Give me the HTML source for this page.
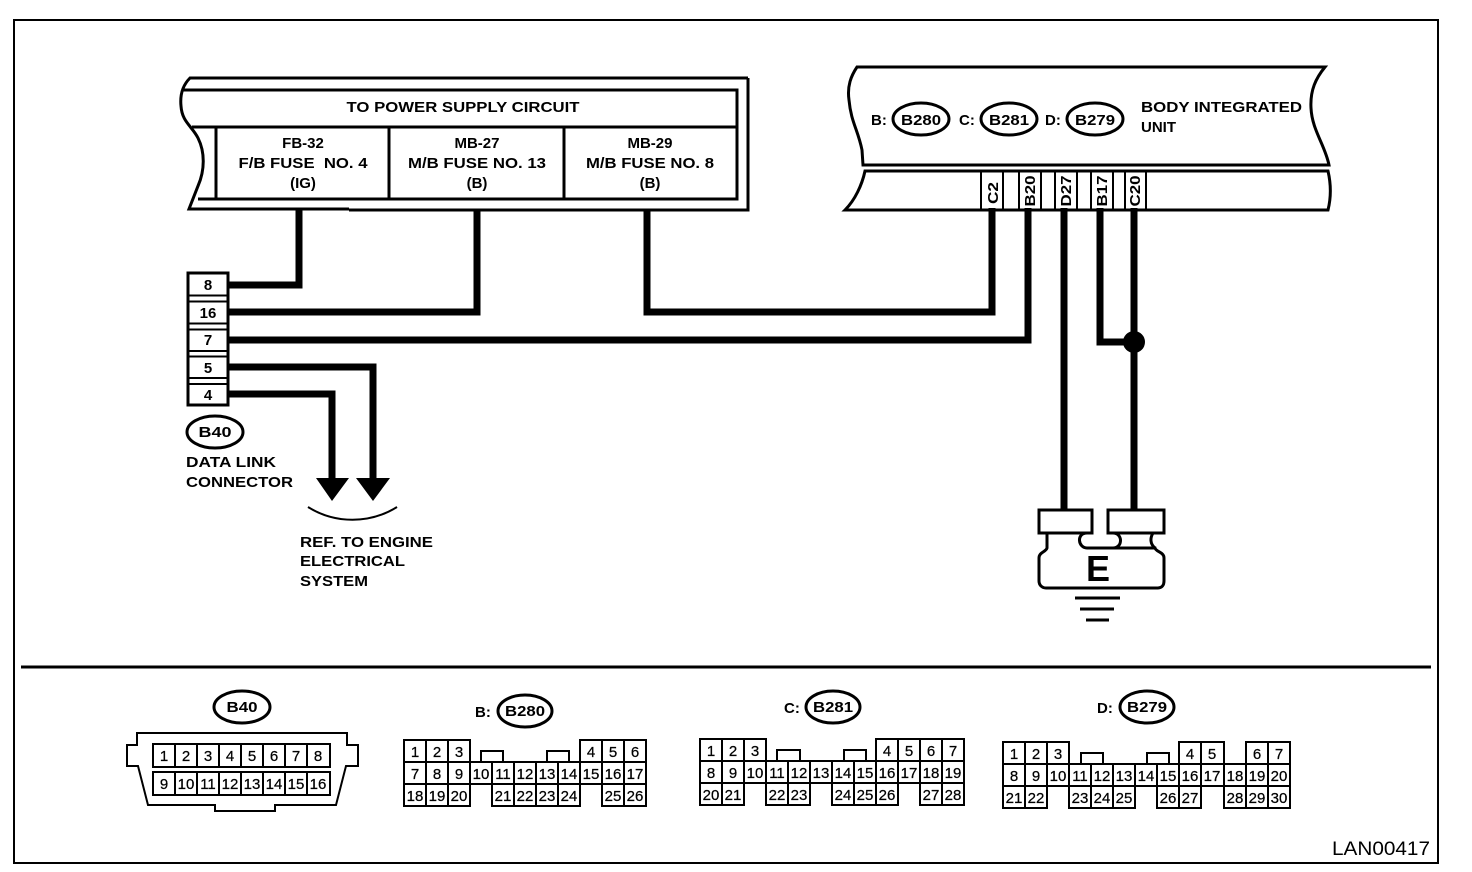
<!DOCTYPE html>
<html>
<head>
<meta charset="utf-8">
<style>
html,body{margin:0;padding:0;background:#fff;width:1472px;height:872px;overflow:hidden}
svg{display:block}
text{font-family:"Liberation Sans",sans-serif;fill:#000}
.b{font-weight:bold;font-size:15px}
.c{text-anchor:middle}
.n{font-size:15px;text-anchor:middle;stroke:#000;stroke-width:.25}
.l{fill:none;stroke:#000;stroke-width:2}
.m{fill:none;stroke:#000;stroke-width:3}
.w{fill:none;stroke:#000;stroke-width:7;stroke-linejoin:miter}
</style>
</head>
<body>
<svg width="1472" height="872" viewBox="0 0 1472 872" xmlns="http://www.w3.org/2000/svg">
<!-- frame -->
<rect x="14" y="20" width="1424" height="843" class="l"/>
<path d="M21 667H1431" class="m"/>

<!-- Power supply box -->
<path d="M748 78H190C182 86 180 96 181 106C182 122 192 126 198 138C205 152 205 170 198 186L189 209H349M349 210H748V78" class="m"/>
<path d="M183 90H737V199H198M192 127H737M216 127V199M389 127V199M564 127V199" class="m"/>
<text class="b c" x="463" y="112" textLength="233" lengthAdjust="spacingAndGlyphs">TO POWER SUPPLY CIRCUIT</text>
<text class="b c" x="303" y="148">FB-32</text>
<text class="b c" x="303" y="168" textLength="129" lengthAdjust="spacingAndGlyphs" xml:space="preserve">F/B FUSE  NO. 4</text>
<text class="b c" x="303" y="188">(IG)</text>
<text class="b c" x="477" y="148">MB-27</text>
<text class="b c" x="477" y="168" textLength="138" lengthAdjust="spacingAndGlyphs">M/B FUSE NO. 13</text>
<text class="b c" x="477" y="188">(B)</text>
<text class="b c" x="650" y="148">MB-29</text>
<text class="b c" x="650" y="168" textLength="128" lengthAdjust="spacingAndGlyphs">M/B FUSE NO. 8</text>
<text class="b c" x="650" y="188">(B)</text>

<!-- Body integrated unit -->
<path d="M1325 67H857C851 76 847 86 849 100C851 122 858 130 862 150L863 165H1329C1325 145 1312 130 1311 108C1310 90 1316 78 1325 67Z" class="m"/>
<path d="M1328 171H865C862 185 855 200 845 210H1328C1331 198 1331 184 1328 171Z" class="m"/>
<path d="M981 171V209M1003 171V209M1019 171V209M1041 171V209M1055 171V209M1077 171V209M1091 171V209M1113 171V209M1125 171V209M1146 171V209" class="l"/>
<text class="b" x="871" y="125">B:</text>
<ellipse cx="921" cy="119" rx="28" ry="16" class="m"/>
<text class="b c" x="921" y="125" textLength="40" lengthAdjust="spacingAndGlyphs">B280</text>
<text class="b" x="959" y="125">C:</text>
<ellipse cx="1009" cy="119" rx="28" ry="16" class="m"/>
<text class="b c" x="1009" y="125" textLength="40" lengthAdjust="spacingAndGlyphs">B281</text>
<text class="b" x="1045" y="125">D:</text>
<ellipse cx="1095" cy="119" rx="28" ry="16" class="m"/>
<text class="b c" x="1095" y="125" textLength="40" lengthAdjust="spacingAndGlyphs">B279</text>
<text class="b" x="1141" y="112" textLength="161" lengthAdjust="spacingAndGlyphs">BODY INTEGRATED</text>
<text class="b" x="1141" y="132">UNIT</text>
<text class="b c" transform="translate(998,193) rotate(-90)" textLength="22" lengthAdjust="spacingAndGlyphs">C2</text>
<text class="b c" transform="translate(1035,191) rotate(-90)" textLength="31" lengthAdjust="spacingAndGlyphs">B20</text>
<text class="b c" transform="translate(1071,191) rotate(-90)" textLength="31" lengthAdjust="spacingAndGlyphs">D27</text>
<text class="b c" transform="translate(1107,191) rotate(-90)" textLength="31" lengthAdjust="spacingAndGlyphs">B17</text>
<text class="b c" transform="translate(1140,191) rotate(-90)" textLength="31" lengthAdjust="spacingAndGlyphs">C20</text>

<!-- wires -->
<path d="M299 210V285H228" class="w"/>
<path d="M477 210V312H228" class="w"/>
<path d="M647 210V312H992V208" class="w"/>
<path d="M228 340H1028V208" class="w"/>
<path d="M228 367H373V480" class="w"/>
<path d="M228 394H332V480" class="w"/>
<path d="M1064 208V511" class="w"/>
<path d="M1100 208V342H1134" class="w"/>
<path d="M1134 208V511" class="w"/>
<circle cx="1134" cy="342" r="11"/>
<path d="M316 478H349L332 501ZM356 478H390L373 501Z"/>
<path d="M308 507C335 524 370 524 397 507" class="l"/>

<!-- Data link block -->
<rect x="188" y="273" width="40" height="132" class="m" fill="#fff"/>
<path d="M188 295.5H228M188 301.5H228M188 323.5H228M188 329.5H228M188 351H228M188 356.5H228M188 378H228M188 384H228" class="l"/>
<text class="b c" x="208" y="290">8</text>
<text class="b c" x="208" y="318">16</text>
<text class="b c" x="208" y="345">7</text>
<text class="b c" x="208" y="373">5</text>
<text class="b c" x="208" y="400">4</text>
<ellipse cx="215" cy="432" rx="28" ry="16" class="m"/>
<text class="b c" x="215" y="437" textLength="33" lengthAdjust="spacingAndGlyphs">B40</text>
<text class="b" x="186" y="467" textLength="90" lengthAdjust="spacingAndGlyphs">DATA LINK</text>
<text class="b" x="186" y="487" textLength="107" lengthAdjust="spacingAndGlyphs">CONNECTOR</text>
<text class="b" x="300" y="547" textLength="133" lengthAdjust="spacingAndGlyphs">REF. TO ENGINE</text>
<text class="b" x="300" y="566" textLength="105" lengthAdjust="spacingAndGlyphs">ELECTRICAL</text>
<text class="b" x="300" y="586" textLength="68" lengthAdjust="spacingAndGlyphs">SYSTEM</text>

<!-- Ground -->
<rect x="1039" y="510" width="53" height="23" class="m"/>
<rect x="1108" y="510" width="56" height="23" class="m"/>
<path d="M1047 533V548C1046 552 1039 552 1039 558V581C1039 585 1042 588 1046 588H1158C1162 588 1164 585 1164 581V558C1164 552 1156 552 1155 548H1087C1078 548 1076 533 1087 533M1113 533C1123 533 1123 548 1113 548M1087 548H1113M1153 533C1150 538 1150 544 1155 548" class="m"/>
<text x="1098" y="581" class="c" style="font-weight:bold;font-size:36px">E</text>
<path d="M1075 598H1120M1080 609H1114M1086 620H1109" class="m"/>

<!-- B40 connector -->
<ellipse cx="242" cy="707" rx="28" ry="16" class="m"/>
<text class="b c" x="242" y="712" textLength="31" lengthAdjust="spacingAndGlyphs">B40</text>
<path d="M137 733H347V745H358V766H346L336 805H275V811H215V805H148L138 766H127V745H137Z" class="l"/>
<rect x="153" y="744" width="177" height="23" class="l"/>
<rect x="153" y="772" width="177" height="23" class="l"/>
<path d="M175 744V767M197 744V767M219 744V767M241 744V767M263 744V767M285 744V767M307 744V767M175 772V795M197 772V795M219 772V795M241 772V795M263 772V795M285 772V795M307 772V795" class="l"/>
<text class="n" x="164" y="761">1</text><text class="n" x="186" y="761">2</text><text class="n" x="208" y="761">3</text><text class="n" x="230" y="761">4</text><text class="n" x="252" y="761">5</text><text class="n" x="274" y="761">6</text><text class="n" x="296" y="761">7</text><text class="n" x="318" y="761">8</text>
<text class="n" x="164" y="789">9</text><text class="n" x="186" y="789">10</text><text class="n" x="208" y="789">11</text><text class="n" x="230" y="789">12</text><text class="n" x="252" y="789">13</text><text class="n" x="274" y="789">14</text><text class="n" x="296" y="789">15</text><text class="n" x="318" y="789">16</text>

<!-- B280 -->
<text class="b" x="475" y="717">B:</text>
<ellipse cx="525" cy="711" rx="27" ry="16" class="m"/>
<text class="b c" x="525" y="716" textLength="40" lengthAdjust="spacingAndGlyphs">B280</text>
<path d="M404 740H470V762H404ZM580 740H646V762H580ZM426 740V762M448 740V762M602 740V762M624 740V762M404 762H646V784H404ZM426 762V784M448 762V784M470 762V784M492 762V784M514 762V784M536 762V784M558 762V784M580 762V784M602 762V784M624 762V784M404 784H470V806H404ZM426 784V806M448 784V806M492 784H580V806H492ZM514 784V806M536 784V806M558 784V806M602 784H646V806H602ZM624 784V806M481 762V751H503V762M547 762V751H569V762" class="l"/>
<text class="n" x="415" y="757">1</text><text class="n" x="437" y="757">2</text><text class="n" x="459" y="757">3</text><text class="n" x="591" y="757">4</text><text class="n" x="613" y="757">5</text><text class="n" x="635" y="757">6</text>
<text class="n" x="415" y="779">7</text><text class="n" x="437" y="779">8</text><text class="n" x="459" y="779">9</text><text class="n" x="481" y="779">10</text><text class="n" x="503" y="779">11</text><text class="n" x="525" y="779">12</text><text class="n" x="547" y="779">13</text><text class="n" x="569" y="779">14</text><text class="n" x="591" y="779">15</text><text class="n" x="613" y="779">16</text><text class="n" x="635" y="779">17</text>
<text class="n" x="415" y="801">18</text><text class="n" x="437" y="801">19</text><text class="n" x="459" y="801">20</text><text class="n" x="503" y="801">21</text><text class="n" x="525" y="801">22</text><text class="n" x="547" y="801">23</text><text class="n" x="569" y="801">24</text><text class="n" x="613" y="801">25</text><text class="n" x="635" y="801">26</text>

<!-- B281 -->
<text class="b" x="784" y="713">C:</text>
<ellipse cx="833" cy="707" rx="27" ry="16" class="m"/>
<text class="b c" x="833" y="712" textLength="40" lengthAdjust="spacingAndGlyphs">B281</text>
<path d="M700 739H766V761H700ZM876 739H964V761H876ZM722 739V761M744 739V761M898 739V761M920 739V761M942 739V761M700 761H964V783H700ZM722 761V783M744 761V783M766 761V783M788 761V783M810 761V783M832 761V783M854 761V783M876 761V783M898 761V783M920 761V783M942 761V783M700 783H744V805H700ZM722 783V805M766 783H810V805H766ZM788 783V805M832 783H898V805H832ZM854 783V805M876 783V805M920 783H964V805H920ZM942 783V805M777 761V750H800V761M844 761V750H866V761" class="l"/>
<text class="n" x="711" y="756">1</text><text class="n" x="733" y="756">2</text><text class="n" x="755" y="756">3</text><text class="n" x="887" y="756">4</text><text class="n" x="909" y="756">5</text><text class="n" x="931" y="756">6</text><text class="n" x="953" y="756">7</text>
<text class="n" x="711" y="778">8</text><text class="n" x="733" y="778">9</text><text class="n" x="755" y="778">10</text><text class="n" x="777" y="778">11</text><text class="n" x="799" y="778">12</text><text class="n" x="821" y="778">13</text><text class="n" x="843" y="778">14</text><text class="n" x="865" y="778">15</text><text class="n" x="887" y="778">16</text><text class="n" x="909" y="778">17</text><text class="n" x="931" y="778">18</text><text class="n" x="953" y="778">19</text>
<text class="n" x="711" y="800">20</text><text class="n" x="733" y="800">21</text><text class="n" x="777" y="800">22</text><text class="n" x="799" y="800">23</text><text class="n" x="843" y="800">24</text><text class="n" x="865" y="800">25</text><text class="n" x="887" y="800">26</text><text class="n" x="931" y="800">27</text><text class="n" x="953" y="800">28</text>

<!-- B279 -->
<text class="b" x="1097" y="713">D:</text>
<ellipse cx="1147" cy="707" rx="27" ry="16" class="m"/>
<text class="b c" x="1147" y="712" textLength="40" lengthAdjust="spacingAndGlyphs">B279</text>
<path d="M1003 742H1069V764H1003ZM1025 742V764M1047 742V764M1179 742H1224V764H1179ZM1201 742V764M1246 742H1290V764H1246ZM1268 742V764M1003 764H1290V786H1003ZM1025 764V786M1047 764V786M1069 764V786M1091 764V786M1113 764V786M1135 764V786M1157 764V786M1179 764V786M1201 764V786M1224 764V786M1246 764V786M1268 764V786M1003 786H1047V808H1003ZM1025 786V808M1069 786H1135V808H1069ZM1091 786V808M1113 786V808M1157 786H1201V808H1157ZM1179 786V808M1224 786H1290V808H1224ZM1246 786V808M1268 786V808M1081 764V753H1103V764M1147 764V753H1169V764" class="l"/>
<text class="n" x="1014" y="759">1</text><text class="n" x="1036" y="759">2</text><text class="n" x="1058" y="759">3</text><text class="n" x="1190" y="759">4</text><text class="n" x="1212" y="759">5</text><text class="n" x="1257" y="759">6</text><text class="n" x="1279" y="759">7</text>
<text class="n" x="1014" y="781">8</text><text class="n" x="1036" y="781">9</text><text class="n" x="1058" y="781">10</text><text class="n" x="1080" y="781">11</text><text class="n" x="1102" y="781">12</text><text class="n" x="1124" y="781">13</text><text class="n" x="1146" y="781">14</text><text class="n" x="1168" y="781">15</text><text class="n" x="1190" y="781">16</text><text class="n" x="1212" y="781">17</text><text class="n" x="1235" y="781">18</text><text class="n" x="1257" y="781">19</text><text class="n" x="1279" y="781">20</text>
<text class="n" x="1014" y="803">21</text><text class="n" x="1036" y="803">22</text><text class="n" x="1080" y="803">23</text><text class="n" x="1102" y="803">24</text><text class="n" x="1124" y="803">25</text><text class="n" x="1168" y="803">26</text><text class="n" x="1190" y="803">27</text><text class="n" x="1235" y="803">28</text><text class="n" x="1257" y="803">29</text><text class="n" x="1279" y="803">30</text>

<text x="1332" y="855" style="font-size:19px" textLength="98" lengthAdjust="spacingAndGlyphs">LAN00417</text>
</svg>
</body>
</html>
